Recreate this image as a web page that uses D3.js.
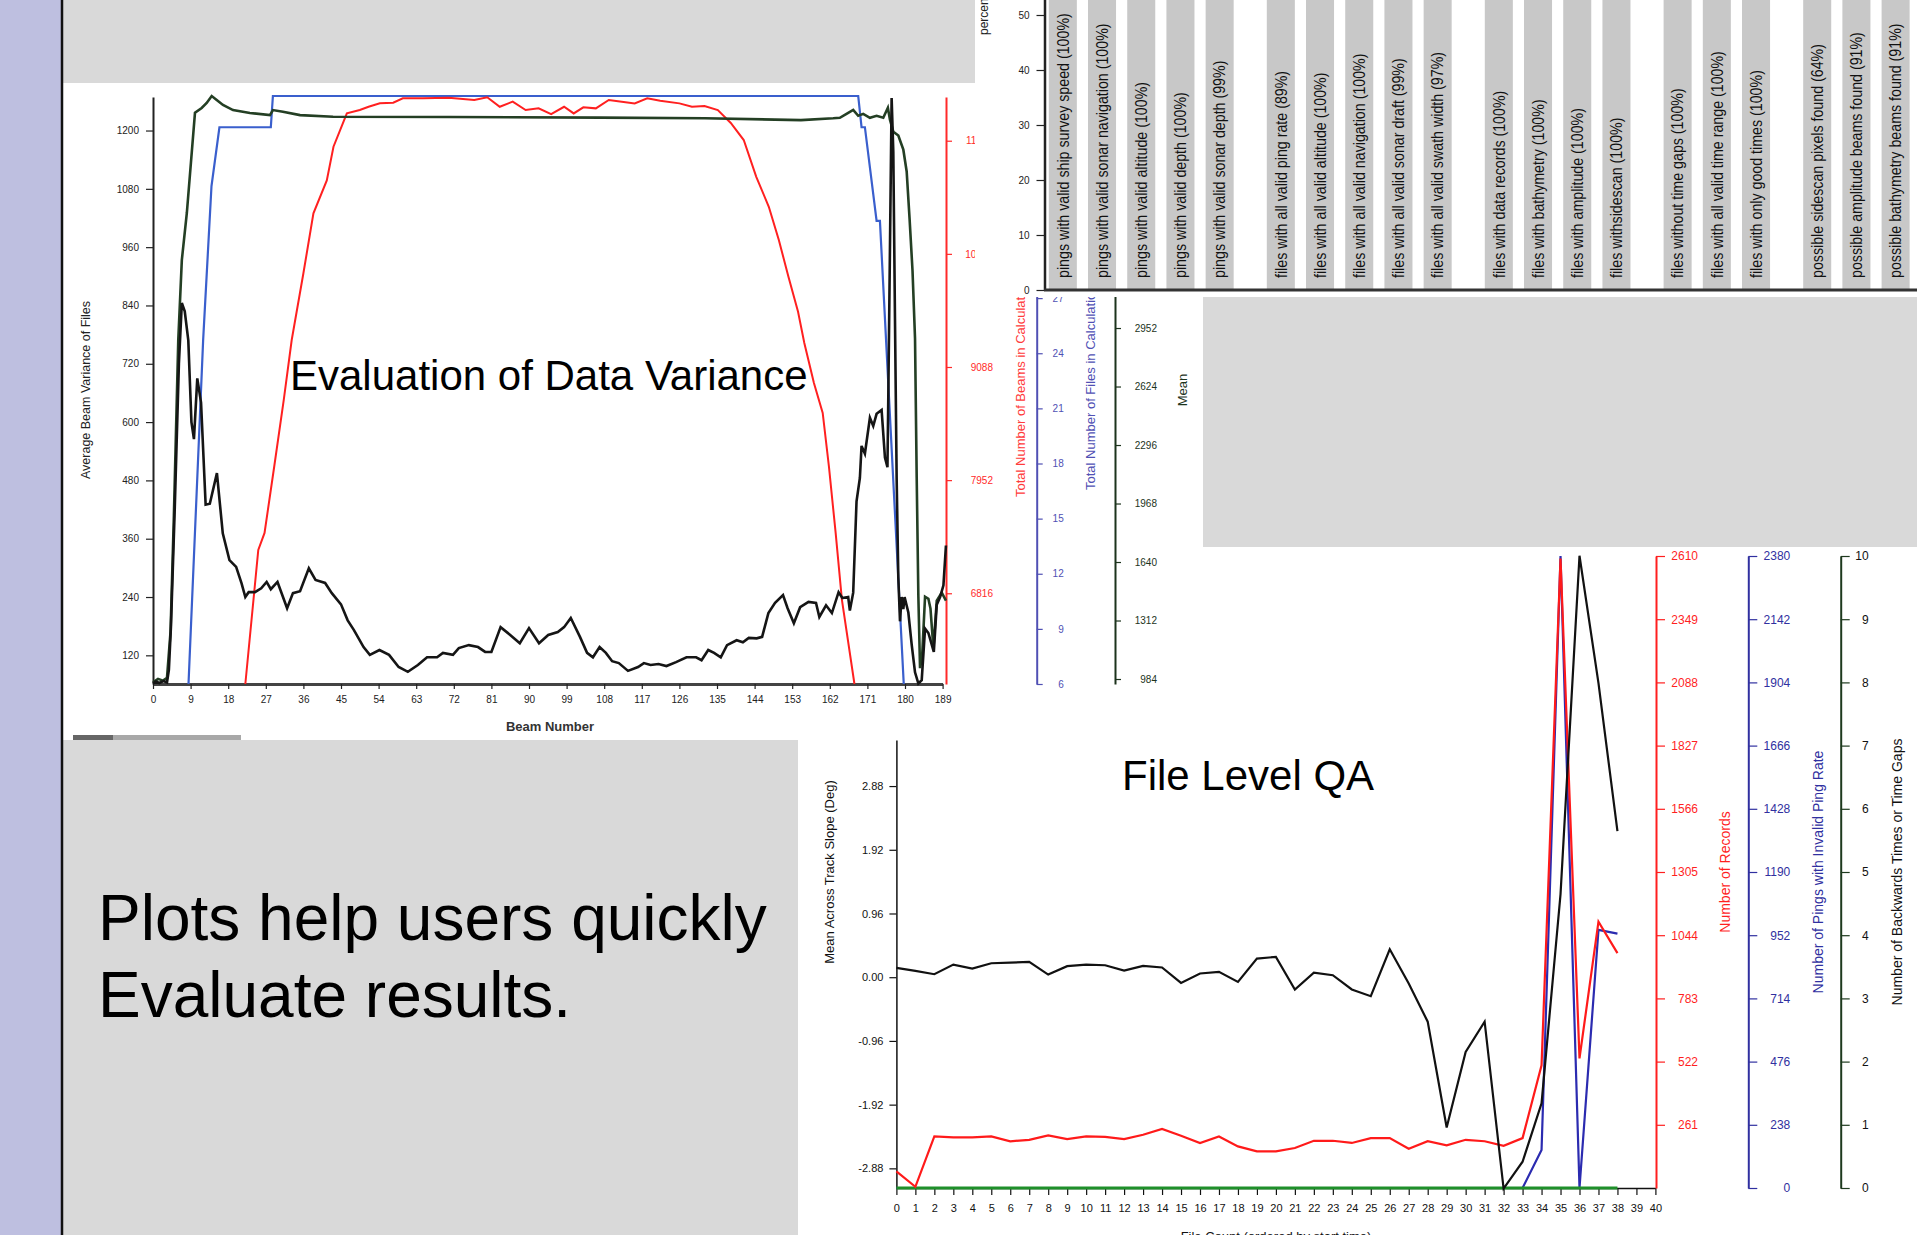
<!DOCTYPE html>
<html>
<head>
<meta charset="utf-8">
<script src="https://cdn.jsdelivr.net/npm/d3@7"></script>
<style>
html, body { margin: 0; padding: 0; background: #fff; overflow: hidden; }
svg { display: block; font-family: "Liberation Sans", Arial, Helvetica, sans-serif; }
</style>
</head>
<body>
<svg id="slide" width="1917" height="1235"></svg>
<script>
// ---- Evaluation of Data Variance (beam number on x) ----
// [beam, average beam variance]
const beamVariance = [
  [0,62],[0.7,66],[1.5,63],[2.5,67],[3.35,64],[3.8,90],[4.3,180],[5.2,420],[6.2,720],[6.9,845],
  [7.6,828],[8.45,768],[9.2,600],[9.8,565],[10.6,690],[11.5,640],[12.6,430],[13.6,432],[15.3,495],
  [16.7,371],[18.3,316],[19.9,302],[21.2,268],[22.1,240],[22.9,250],[24.4,250],[25.9,258],[27.2,271],
  [28.2,256],[29.8,271],[32.1,217],[33.5,248],[35.2,252],[37.3,299],[38.9,275],[41.2,269],[42.8,248],
  [45,225],[46.6,192],[48.1,172],[50.4,137],[51.9,121],[54.2,131],[56.5,121],[58.8,96],[61,86],
  [63.4,100],[65.6,116],[68,116],[69.4,125],[71.8,121],[73.2,135],[75.6,141],[77.8,137],[79.5,127],
  [81,127],[83.2,178],[85.5,162],[87.8,145],[90,176],[92.4,145],[94.6,162],[96.9,168],[98.4,178],
  [100,197],[102.2,158],[103.9,125],[105.3,116],[106.9,137],[108.4,125],[109.9,108],[111.5,104],
  [113.7,88],[116.1,96],[117.5,104],[119.1,100],[121,102],[122.9,98],[125.2,106],[127.7,116],[130,116],
  [131.3,110],[132.9,131],[134.3,125],[135.9,116],[137.4,141],[139.7,151],[141.2,147],[142.6,156],
  [144.5,155],[145.8,158],[147.3,207],[148.9,228],[150.8,244],[151.9,217],[153.4,186],[154.9,219],
  [156.9,230],[158.7,228],[159.5,199],[161.1,223],[162.5,207],[164.1,250],[165,238],[166.4,240],
  [166.8,212],[167.6,249],[168.4,437],[169.2,485],[169.6,551],[170.4,535],[171.6,609],[172.4,592],
  [173.2,617],[174.4,625],[175.2,527],[175.8,507],[176,650],[176.8,1267],[177.2,1157],[177.6,813],
  [178,485],[178.4,280],[178.8,190],[179.2,240],[179.6,215],[179.9,240],[180.8,208],[181.6,142],
  [182.4,85],[183.2,62],[184,69],[184.8,175],[185.6,166],[186.4,142],[186.9,127],[187.6,224],
  [188.4,240],[189.2,264],[189.8,346]
];
// [beam, mean]
const beamMean = [
  [0,965],[1.2,985],[2.4,975],[3.35,990],[4.2,1250],[5,1900],[6.05,2885],[6.9,3333],[8.1,3597],
  [10.05,4159],[11.65,4186],[12.85,4214],[14.05,4253],[15.25,4231],[16.75,4203],[19.15,4174],
  [23.2,4158],[28,4146],[28.7,4174],[31.1,4165],[35.2,4146],[43.1,4137],[71,4135],[107,4132],
  [132.1,4128],[155.1,4118],[162.8,4128],[164.4,4131],[166,4153],[167.6,4175],[168.8,4142],
  [170,4153],[171.6,4131],[173.2,4142],[174.8,4131],[175.9,4187],[176.4,4120],[177.2,4053],
  [178.4,4031],[179.6,3952],[180.4,3830],[181.1,3563],[181.8,3273],[182.4,2894],[182.8,2114],
  [183.2,1445],[183.6,1045],[184.1,1111],[184.8,1445],[185.6,1434],[186.1,1379],[186.8,1156],
  [187.6,1423],[188.8,1468],[189.8,1423]
];
// [beam, total number of beams in calculation]
const beamCount = [
  [22.1,5905],[25.2,7251],[26.7,7422],[29,8084],[31.3,8757],[33.2,9359],[36,10029],[38.4,10631],
  [41.6,10962],[43.2,11300],[46.4,11635],[49.5,11668],[51.6,11701],[54.3,11736],[57.5,11742],
  [59.8,11786],[64.6,11786],[70.8,11792],[76.9,11769],[80,11796],[83,11701],[86.1,11752],[89.2,11668],
  [92.3,11685],[95.3,11627],[98.4,11701],[100.7,11634],[103,11695],[106,11685],[109.1,11769],
  [112.2,11752],[115.3,11735],[118.3,11786],[121.4,11762],[126,11735],[129,11701],[132,11708],
  [135.2,11668],[138.3,11538],[141.4,11367],[144.4,10998],[147.4,10697],[149.8,10363],[152.1,9994],
  [154.4,9643],[155.9,9329],[158.2,8927],[160.3,8626],[161.8,8084],[163.4,7422],[164.9,6749],[167.9,5905]
];
// [beam, total number of files in calculation]
const beamFiles = [
  [8.5,6],[12,24.7],[14,33.1],[15.9,36.3],[28.2,36.3],[28.7,38],[168.8,38],[169.6,36.3],
  [170.4,36.3],[173.2,31.2],[174,31.2],[179.7,6]
];

// ---- QA percentages (bar chart) ----
const qaLabels = [
  "pings with valid ship survey speed (100%)", "pings with valid sonar navigation (100%)",
  "pings with valid altitude (100%)", "pings with valid depth (100%)", "pings with valid sonar depth (99%)",
  "files with all valid ping rate (89%)", "files with all valid altitude (100%)",
  "files with all valid navigation (100%)", "files with all valid sonar draft (99%)",
  "files with all valid swath width (97%)",
  "files with data records (100%)", "files with bathymetry (100%)", "files with amplitude (100%)",
  "files withsidescan (100%)",
  "files without time gaps (100%)", "files with all valid time range (100%)", "files with only good times (100%)",
  "possible sidescan pixels found (64%)", "possible amplitude beams found (91%)", "possible bathymetry beams found (91%)"
];
const qaPercent = [100,100,100,100,99, 89,100,100,99,97, 100,100,100,100, 100,100,100, 64,91,91];
const qaGroup   = [0,0,0,0,0, 1,1,1,1,1, 2,2,2,2, 3,3,3, 4,4,4];

// ---- File Level QA (file count on x) ----
const fileIndex = [0,1,2,3,4,5,6,7,8,9,10,11,12,13,14,15,16,17,18,19,20,21,22,23,24,25,26,27,28,29,30,31,32,33,34,35,36,37,38];
const slopeMean = [0.14,0.095,0.045,0.19,0.13,0.21,0.22,0.23,0.04,0.166,0.19,0.18,0.10,0.17,0.146,-0.086,0.056,0.08,-0.07,0.28,
  0.306,-0.185,0.07,0.03,-0.185,-0.286,0.42,-0.095,-0.67,-2.265,-1.126,-0.67,-3.185,-2.78,-1.9,1.25,6.35,4.43,2.2];
const recordCount = [69,5,213,209,209,213,193,199,217,202,213,211,202,220,244,216,186,213,172,151,
  151,165,195,195,186,206,206,162,193,176,199,193,174,206,507,2600,535,1100,970];
const invalidPingRate = [0,0,0,0,0,0,0,0,0,0,0,0,0,0,0,0,0,0,0,0,0,0,0,0,0,0,0,0,0,0,0,0,0,0,143,2380,0,972,958];
const timeGaps = [0,0,0,0,0,0,0,0,0,0,0,0,0,0,0,0,0,0,0,0,0,0,0,0,0,0,0,0,0,0,0,0,0,0,0,0,0,0,0];

const W = 1917, H = 1235;
const svg = d3.select('#slide');
const plain = d3.format('d');

// slide background
svg.append('rect').attr('width', W).attr('height', H).attr('fill', '#fff');
svg.append('rect').attr('x', 0).attr('y', 0).attr('width', 62).attr('height', H).attr('fill', '#bebfe0');

function styleAxis(g, color, fontSize, width) {
  g.selectAll('path').attr('stroke', color).attr('stroke-width', width || 1.5);
  g.selectAll('line').attr('stroke', color).attr('stroke-width', 1.2);
  g.selectAll('text').attr('fill', color).attr('font-size', fontSize + 'px')
    .attr('font-family', '"Liberation Sans", Arial, sans-serif');
}

// ================= Evaluation of Data Variance =================
const x1 = d3.scaleLinear().domain([0, 189]).range([153, 942.6]);
const yVar = d3.scaleLinear().domain([61, 1269]).range([684, 97]);
const yBeams = d3.scaleLinear().domain([5905, 11799]).range([684, 97]);
const yFiles = d3.scaleLinear().domain([6, 38]).range([684, 96]);
const yMean = d3.scaleLinear().domain([956, 4253]).range([684, 96]);

const varChart = svg.append('g');

const gl = varChart.append('g').attr('transform', 'translate(153,0)')
  .call(d3.axisLeft(yVar).tickValues(d3.range(120, 1201, 120)).tickFormat(plain)
    .tickSize(7).tickSizeOuter(0).tickPadding(7));
styleAxis(gl, '#222', 10, 2);

const gb = varChart.append('g').attr('transform', 'translate(0,684)')
  .call(d3.axisBottom(x1).tickValues(d3.range(0, 190, 9)).tickSize(5).tickSizeOuter(0).tickPadding(7));
styleAxis(gb, '#222', 10, 3);
gb.select('path').attr('stroke', '#444');

const gr = varChart.append('g').attr('transform', 'translate(946,0)')
  .call(d3.axisRight(yBeams).tickValues(d3.range(6816, 11800, 1136)).tickFormat(plain)
    .tickSize(6).tickSizeOuter(0));
styleAxis(gr, '#ff2a2a', 10, 2);
gr.selectAll('text').attr('text-anchor', 'end').attr('x', 47);

const gf = varChart.append('g').attr('transform', 'translate(1036.7,0)')
  .call(d3.axisRight(yFiles).tickValues(d3.range(6, 39, 3)).tickSize(6).tickSizeOuter(0));
styleAxis(gf, '#5050b4', 10, 2);
gf.selectAll('text').attr('text-anchor', 'end').attr('x', 27);

const gm = varChart.append('g').attr('transform', 'translate(1115,0)')
  .call(d3.axisRight(yMean).tickValues(d3.range(984, 4253, 328)).tickFormat(plain)
    .tickSize(6).tickSizeOuter(0));
styleAxis(gm, '#1c331c', 10, 2);
gm.selectAll('text').attr('text-anchor', 'end').attr('x', 42);

const lineFor = (ys) => d3.line().x(d => x1(d[0])).y(d => ys(d[1]));

varChart.append('path').datum(beamFiles).attr('d', lineFor(yFiles))
  .attr('fill', 'none').attr('stroke', '#3a5fcd').attr('stroke-width', 2.2);
varChart.append('path').datum(beamCount).attr('d', lineFor(yBeams))
  .attr('fill', 'none').attr('stroke', '#ff2020').attr('stroke-width', 2);
varChart.append('path').datum(beamMean).attr('d', lineFor(yMean))
  .attr('fill', 'none').attr('stroke', '#243f24').attr('stroke-width', 2.6);
varChart.append('path').datum(beamVariance).attr('d', lineFor(yVar))
  .attr('fill', 'none').attr('stroke', '#151515').attr('stroke-width', 2.6);

varChart.append('text').attr('transform', 'translate(86,390) rotate(-90)').attr('dy', '0.35em')
  .attr('text-anchor', 'middle').attr('font-size', '12.5px').attr('fill', '#222')
  .text('Average Beam Variance of Files');
varChart.append('text').attr('x', 550).attr('y', 731).attr('text-anchor', 'middle')
  .attr('font-size', '13px').attr('font-weight', 'bold').attr('fill', '#333').text('Beam Number');
varChart.append('text').attr('transform', 'translate(1020,497) rotate(-90)').attr('dy', '0.35em')
  .attr('font-size', '13px').attr('fill', '#ff3b3b').text('Total Number of Beams in Calculation');
varChart.append('text').attr('transform', 'translate(1090,490) rotate(-90)').attr('dy', '0.35em')
  .attr('font-size', '13px').attr('fill', '#5050b4').text('Total Number of Files in Calculation');
varChart.append('text').attr('transform', 'translate(1182,390) rotate(-90)').attr('dy', '0.35em')
  .attr('text-anchor', 'middle').attr('font-size', '13px').attr('fill', '#1c331c').text('Mean');

// ================= File Level QA =================
const x3 = d3.scaleLinear().domain([0, 40]).range([896.4, 1655.4]);
const ySlope = d3.scaleLinear().domain([-3.176, 3.574]).range([1188, 740]);
const yRec = d3.scaleLinear().domain([0, 2610]).range([1188, 556]);
const yPing = d3.scaleLinear().domain([0, 2380]).range([1188, 556]);
const yGap = d3.scaleLinear().domain([0, 10]).range([1188, 556]);

const fileChart = svg.append('g');

const sl = fileChart.append('g').attr('transform', 'translate(896.4,0)')
  .call(d3.axisLeft(ySlope).tickValues([-2.88, -1.92, -0.96, 0, 0.96, 1.92, 2.88])
    .tickFormat(d => d.toFixed(2)).tickSize(7).tickSizeOuter(0).tickPadding(6));
styleAxis(sl, '#111', 11, 1.5);

const sb = fileChart.append('g').attr('transform', 'translate(0,1188)')
  .call(d3.axisBottom(x3).tickValues(d3.range(0, 41)).tickSize(7).tickSizeOuter(0).tickPadding(9));
styleAxis(sb, '#111', 11, 1.5);

const sr = fileChart.append('g').attr('transform', 'translate(1656,0)')
  .call(d3.axisRight(yRec).tickValues(d3.range(261, 2611, 261)).tickFormat(plain)
    .tickSize(9).tickSizeOuter(0));
styleAxis(sr, '#ff1f1f', 12, 2);
sr.selectAll('text').attr('text-anchor', 'end').attr('x', 42);

const sp = fileChart.append('g').attr('transform', 'translate(1748.3,0)')
  .call(d3.axisRight(yPing).tickValues(d3.range(0, 2381, 238)).tickFormat(plain)
    .tickSize(9).tickSizeOuter(0));
styleAxis(sp, '#3030a0', 12, 2);
sp.selectAll('text').attr('text-anchor', 'end').attr('x', 42);

const sg = fileChart.append('g').attr('transform', 'translate(1840.7,0)')
  .call(d3.axisRight(yGap).tickValues(d3.range(0, 11)).tickSize(9).tickSizeOuter(0));
styleAxis(sg, '#1e3a1e', 12, 2);
sg.selectAll('text').attr('text-anchor', 'end').attr('x', 28).attr('fill', '#111');

const fileLine = (ys, values) => d3.line().x(i => x3(i)).y(i => ys(values[i]));

fileChart.append('path').datum(fileIndex).attr('d', fileLine(yPing, invalidPingRate))
  .attr('fill', 'none').attr('stroke', '#2b2bb0').attr('stroke-width', 2.2);
fileChart.append('path').datum(fileIndex).attr('d', fileLine(yGap, timeGaps))
  .attr('fill', 'none').attr('stroke', '#1f8f2a').attr('stroke-width', 3);
fileChart.append('path').datum(fileIndex).attr('d', fileLine(yRec, recordCount))
  .attr('fill', 'none').attr('stroke', '#ff1a1a').attr('stroke-width', 2.2);
fileChart.append('path').datum(fileIndex).attr('d', fileLine(ySlope, slopeMean))
  .attr('fill', 'none').attr('stroke', '#111').attr('stroke-width', 2.2);

fileChart.append('text').attr('transform', 'translate(829,872) rotate(-90)').attr('dy', '0.35em')
  .attr('text-anchor', 'middle').attr('font-size', '13px').attr('fill', '#111')
  .text('Mean Across Track Slope (Deg)');
fileChart.append('text').attr('x', 1276).attr('y', 1241).attr('text-anchor', 'middle')
  .attr('font-size', '13px').attr('fill', '#111').text('File Count (ordered by start time)');
fileChart.append('text').attr('transform', 'translate(1725,872) rotate(-90)').attr('dy', '0.35em')
  .attr('text-anchor', 'middle').attr('font-size', '14px').attr('fill', '#ff1f1f').text('Number of Records');
fileChart.append('text').attr('transform', 'translate(1818,872) rotate(-90)').attr('dy', '0.35em')
  .attr('text-anchor', 'middle').attr('font-size', '14px').attr('fill', '#3030a0')
  .text('Number of Pings with Invalid Ping Rate');
fileChart.append('text').attr('transform', 'translate(1897,872) rotate(-90)').attr('dy', '0.35em')
  .attr('text-anchor', 'middle').attr('font-size', '14px').attr('fill', '#111')
  .text('Number of Backwards Times or Time Gaps');

// ================= slide panels =================
svg.append('rect').attr('x', 62).attr('y', 0).attr('width', 913).attr('height', 83).attr('fill', '#d9d9d9');
svg.append('rect').attr('x', 62).attr('y', 740).attr('width', 736).attr('height', H - 740).attr('fill', '#d9d9d9');
svg.append('rect').attr('x', 1203).attr('y', 297).attr('width', W - 1203).attr('height', 250).attr('fill', '#d9d9d9');
svg.append('rect').attr('x', 73).attr('y', 735).attr('width', 40).attr('height', 5).attr('fill', '#666');
svg.append('rect').attr('x', 113).attr('y', 735).attr('width', 128).attr('height', 5).attr('fill', '#a8a8a8');
svg.append('line').attr('x1', 62).attr('x2', 62).attr('y1', 0).attr('y2', H)
  .attr('stroke', '#111').attr('stroke-width', 2.5);

// ================= QA bar chart =================
const barPanel = svg.append('g');
barPanel.append('rect').attr('x', 975).attr('y', 0).attr('width', W - 975).attr('height', 297).attr('fill', '#fff');

const slots = qaPercent.map((d, i) => i + 0.56 * qaGroup[i]);
const xBar = d3.scaleLinear().domain([0, 21.24]).range([1048.8, 1881.6]);
const yPct = d3.scaleLinear().domain([0, 100]).range([290, -260]);
const barW = xBar(0.715) - xBar(0);

barPanel.selectAll('rect.qa')
  .data(qaPercent)
  .enter()
  .append('rect')
  .attr('class', 'qa')
  .attr('x', (d, i) => xBar(slots[i]))
  .attr('y', d => yPct(d))
  .attr('width', barW)
  .attr('height', d => yPct(0) - yPct(d))
  .attr('fill', '#c8c8c8');

barPanel.selectAll('text.qa')
  .data(qaLabels)
  .enter()
  .append('text')
  .attr('class', 'qa')
  .attr('transform', (d, i) => `translate(${xBar(slots[i]) + barW / 2},278) rotate(-90) scale(0.89,1)`)
  .attr('dy', '0.36em')
  .attr('font-size', '16px')
  .attr('fill', '#111')
  .text(d => d);

const ya = barPanel.append('g').attr('transform', 'translate(1044.5,0)')
  .call(d3.axisLeft(yPct).tickValues(d3.range(0, 101, 10)).tickSize(8).tickSizeOuter(0).tickPadding(7));
styleAxis(ya, '#222', 10, 2.5);

barPanel.append('line').attr('x1', 1044).attr('x2', W).attr('y1', 290).attr('y2', 290)
  .attr('stroke', '#333').attr('stroke-width', 3);
barPanel.append('text').attr('transform', `translate(984,${yPct(50)}) rotate(-90)`).attr('dy', '0.35em')
  .attr('text-anchor', 'middle').attr('font-size', '12px').attr('fill', '#222').text('percent');

// ================= slide titles =================
svg.append('text').attr('x', 290).attr('y', 390).attr('font-size', '42px').attr('fill', '#000')
  .text('Evaluation of Data Variance');
svg.append('text').attr('x', 1122).attr('y', 790).attr('font-size', '42px').attr('fill', '#000')
  .text('File Level QA');
svg.append('text').attr('x', 98).attr('y', 940).attr('font-size', '64px').attr('fill', '#000')
  .text('Plots help users quickly');
svg.append('text').attr('x', 98).attr('y', 1017).attr('font-size', '64px').attr('fill', '#000')
  .text('Evaluate results.');
</script>
</body>
</html>
